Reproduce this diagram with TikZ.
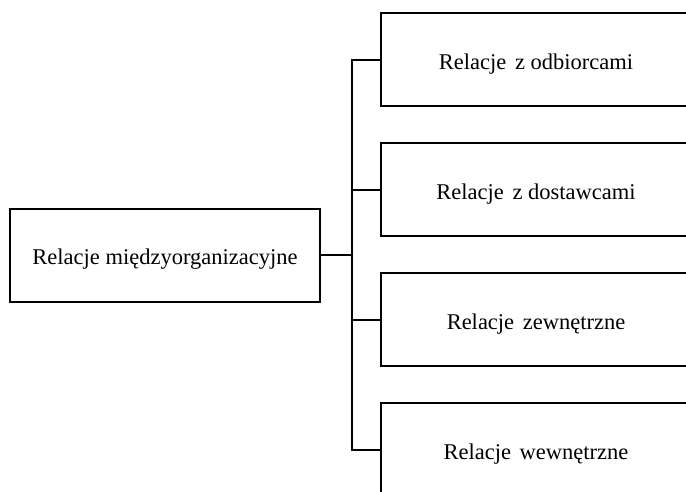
\documentclass[tikz,border=0pt]{standalone}
\usepackage{fontspec}
\setmainfont{Liberation Serif}
\usetikzlibrary{positioning}

\begin{document}
\begin{tikzpicture}[
        x=1pt,y=1pt,node distance=130pt,on grid,
        box/.style={draw,line width=2pt,minimum width=310pt,minimum height=93pt,
          text height=24pt,text depth=5pt,font=\fontsize{22.5}{27}\selectfont},
        link/.style={line width=2pt},
        ]
        \useasboundingbox (0,0) rectangle (686,-491);
        \clip (0,0) rectangle (686,-491);
        \node[box]                       (rel)  at (165,-255)  {Relacje międzyorganizacyjne};
        \node[box]                       (odb)  at (536,-59.5) {Relacje\hspace{3pt} z odbiorcami};
        \node[box]                       (dost) [below=of odb] {Relacje\hspace{3pt} z dostawcami};
        \node[box]                       (zew)  [below=of dost] {Relacje\hspace{3pt} zewnętrzne};
        \node[box]                       (wew)  [below=of zew]  {Relacje\hspace{3pt} wewnętrzne};

        \coordinate (split) at ([xshift=31pt]rel.east);
        \draw[link] (rel.east) -- (split);
        \foreach \n in {odb,dost,zew,wew}
          \draw[link] (split) |- (\n.west);
      \end{tikzpicture}
\end{document}
